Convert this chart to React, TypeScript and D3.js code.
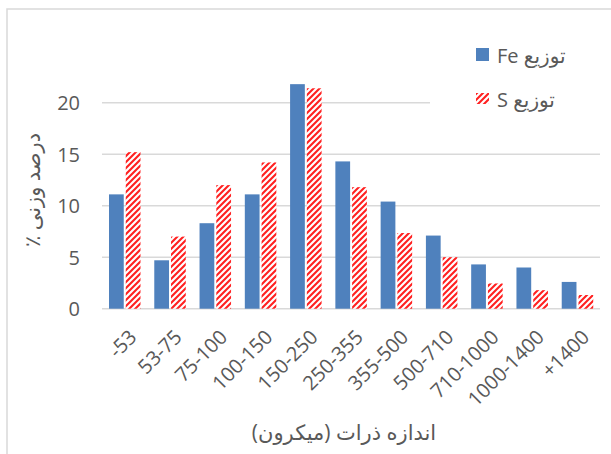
import React from "react";
import * as d3 from "d3";

const categories = ["-53", "53-75", "75-100", "100-150", "150-250", "250-355", "355-500", "500-710", "710-1000", "1000-1400", "+1400"];
const feValues = [11.1, 4.7, 8.3, 11.1, 21.8, 14.3, 10.4, 7.1, 4.3, 4.0, 2.6];
const sValues = [15.2, 7.0, 12.0, 14.2, 21.4, 11.8, 7.35, 5.0, 2.45, 1.8, 1.33];
const yTicks = [0, 5, 10, 15, 20];
const seriesNames = ["توزیع Fe", "توزیع S"];
const xTitle = "اندازه ذرات (میکرون)";
const yTitle = "درصد وزنی ٪";

const W = 611;
const H = 454;
const FONT = "'Open Sans', 'DejaVu Sans', sans-serif";
const TXT = "#595959";
const BLUE = "#4F81BD";

export default function App() {
  const x = d3.scaleBand<string>().domain(categories).range([102, 600]).padding(0);
  const inner = d3.scaleBand<string>().domain(["fe", "s"]).range([7, 38.5]).paddingInner(0.12);
  const y = d3.scaleLinear().domain([0, 20]).range([308.7, 102.7]);

  return (
    <svg width={W} height={H} style={{ position: "absolute", left: 0, top: 0, background: "#fff" }}>
      <defs>
        <pattern id="hatch" patternUnits="userSpaceOnUse" width={6} height={6}>
          <rect width={6} height={6} fill="#fff" />
          <path d="M-1,1 l2,-2 M0,6 l6,-6 M5,7 l2,-2" stroke="#FF2020" strokeWidth={2.1} />
        </pattern>
      </defs>
      <rect x={7} y={9} width={W + 10} height={H + 10} fill="#fff" stroke="#d9d9d9" strokeWidth={1.5} />
      {yTicks.map((t) => (
        <g key={t}>
          <line x1={102} x2={t === 20 ? 430 : 600} y1={y(t)} y2={y(t)} stroke="#d9d9d9" strokeWidth={1.5} />
          <text x={80} y={y(t)} textAnchor="end" dominantBaseline="central" fontSize={20} fill={TXT} fontFamily={FONT}>
            {t}
          </text>
        </g>
      ))}
      {categories.map((c, i) => (
        <g key={c}>
          <rect x={x(c)! + inner("fe")!} y={y(feValues[i])} width={inner.bandwidth()} height={y(0) - y(feValues[i])} fill={BLUE} />
          <rect x={x(c)! + inner("s")!} y={y(sValues[i])} width={inner.bandwidth()} height={y(0) - y(sValues[i])} fill="url(#hatch)" />
          <text
            transform={`translate(${x(c)! + x.bandwidth() / 2 + 8},${333}) rotate(-45)`}
            textAnchor="end"
            dominantBaseline="central"
            fontSize={20}
            fill={TXT}
            fontFamily={FONT}
          >
            {c}
          </text>
        </g>
      ))}
      <text x={344} y={432} textAnchor="middle" dominantBaseline="central" fontSize={21} fill={TXT} fontFamily={FONT} direction="rtl">
        {xTitle}
      </text>
      <text transform={`translate(32,190) rotate(-90)`} textAnchor="middle" dominantBaseline="central" fontSize={21} fill={TXT} fontFamily={FONT} direction="rtl">
        {yTitle}
      </text>
      <g>
        <rect x={476} y={48} width={13} height={13} fill={BLUE} />
        <text x={497} y={55} textAnchor="start" dominantBaseline="central" fontSize={20} fill={TXT} fontFamily={FONT} direction="ltr" unicodeBidi="plaintext">
          {seriesNames[0]}
        </text>
        <rect x={476} y={93} width={13} height={11} fill="url(#hatch)" />
        <text x={497} y={99} textAnchor="start" dominantBaseline="central" fontSize={20} fill={TXT} fontFamily={FONT} direction="ltr" unicodeBidi="plaintext">
          {seriesNames[1]}
        </text>
      </g>
    </svg>
  );
}
